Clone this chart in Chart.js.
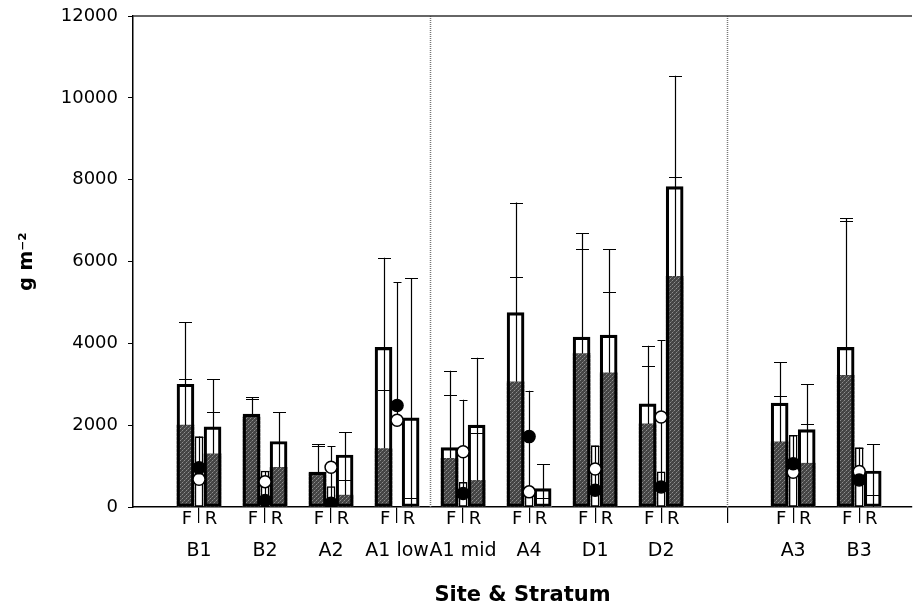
<!DOCTYPE html>
<html>
<head>
<meta charset="utf-8">
<script src="https://cdn.jsdelivr.net/npm/chart.js@4.4.0/dist/chart.umd.min.js"></script>
<style>
  html, body { margin: 0; padding: 0; background: #fff; }
  #wrap { width: 914px; height: 609px; }
</style>
</head>
<body>
<div id="wrap"><canvas id="chart"></canvas></div>
<script>
// sites along the x axis ('' = empty slot before the last group)
const sites = ['B1', 'B2', 'A2', 'A1 low', 'A1 mid', 'A4', 'D1', 'D2', '', 'A3', 'B3'];
const subLabels = ['F', 'R'];
const yTicks = [0, 2000, 4000, 6000, 8000, 10000, 12000];

// F bars (dark lower part, total height) and error caps
const fDark  = [2000, 2200,  850, 1430, 1190, 3060, 3750, 2030, null, 1590, 3220];
const fTotal = [3000, 2270,  850, 3900, 1450, 4750, 4150, 2520, null, 2540, 3900];
const fCapLo = [3130, 2630, 1480, 2870, 2740, 5630, 6300, 3450, null, 2720, 6990];
const fCapHi = [4520, 2690, 1530, 6090, 3330, 7440, 6690, 3940, null, 3540, 7060];

// R bars
const rDark  = [1300,  970,  290,    0,  650,    0, 3280, 5640, null, 1070,    0];
const rTotal = [1960, 1600, 1270, 2180, 2000,  450, 4200, 7830, null, 1890,  880];
const rCapLo = [2320, null,  660,  210, 1800,  230, 5250, 8070, null, 2020,  290];
const rCapHi = [3130, 2310, 1830, 5590, 3650, 1050, 6300, 10540, null, 3000, 1530];

// narrow middle column: bar, filled dot, open dot, error cap
const midBar   = [1720,  880,  500,    0,  600,  420, 1500,  860, null, 1750, 1450];
const midBlack = [ 960,  160,   90, 2480,  330, 1720,  410,  490, null, 1060,  660];
const midWhite = [ 680,  620,  970, 2120, 1350,  370,  930, 2200, null,  850,  870];
const midCap   = [1720,  880, 1480, 5500, 2620, 2840, 1500, 4080, null, 1750, 1450];

const dividers = [4.5, 9];
const OFF = 0.205;

const canvas = document.getElementById('chart');
const ctx0 = canvas.getContext('2d');

function stipple() {
  const c = document.createElement('canvas');
  c.width = 4; c.height = 4;
  const g = c.getContext('2d');
  g.fillStyle = '#444'; g.fillRect(0, 0, 4, 4);
  g.fillStyle = '#8e8e8e';
  g.fillRect(0, 0, 1, 1); g.fillRect(2, 2, 1, 1);
  g.fillStyle = '#666';
  g.fillRect(3, 1, 1, 1); g.fillRect(1, 3, 1, 1);
  return ctx0.createPattern(c, 'repeat');
}
const dark = stipple();

function bars(lo, hi, off) {
  return sites.map((s, i) => ({x: i + 1 + off, y: [lo ? lo[i] : 0, hi[i]]}))
    .filter(d => d.y[0] != null && d.y[1] != null);
}
function dots(vals) {
  return sites.map((s, i) => ({x: i + 1, y: vals[i]})).filter(d => d.y != null);
}

const barBase = {type: 'bar', grouped: false, borderSkipped: false, barThickness: 17};

const errorBars = {
  id: 'errorBars',
  beforeDatasetsDraw(chart) {
    const {ctx, chartArea: a, scales: {x}} = chart;
    ctx.save();
    ctx.strokeStyle = '#777';
    ctx.lineWidth = 1.5;
    ctx.setLineDash([1, 1]);
    dividers.forEach(v => {
      const px = Math.round(x.getPixelForValue(v)) + 0.5;
      ctx.beginPath(); ctx.moveTo(px, a.top); ctx.lineTo(px, a.bottom); ctx.stroke();
    });
    ctx.setLineDash([]);
    ctx.strokeStyle = '#333';
    ctx.lineWidth = 1.5;
    ctx.beginPath(); ctx.moveTo(a.left, a.top); ctx.lineTo(a.right, a.top); ctx.stroke();
    ctx.restore();
  },
  afterDatasetDraw(chart, args) {
    if (chart.data.datasets[args.index].label !== 'mid') return;
    const {ctx, scales: {x, y}} = chart;
    ctx.save();
    ctx.strokeStyle = '#000';
    ctx.lineWidth = 1.2;
    const draw = (xv, from, caps, hw) => {
      const c = caps.filter(v => v != null);
      if (!c.length || from == null) return;
      const px = Math.round(x.getPixelForValue(xv)) + 0.5;
      ctx.beginPath();
      ctx.moveTo(px, y.getPixelForValue(from));
      ctx.lineTo(px, y.getPixelForValue(Math.max(...c)));
      c.forEach(v => {
        const py = Math.round(y.getPixelForValue(v)) + 0.5;
        ctx.moveTo(px - hw, py); ctx.lineTo(px + hw, py);
      });
      ctx.stroke();
    };
    sites.forEach((s, i) => {
      draw(i + 1 - OFF, fDark[i], [fCapLo[i], fCapHi[i]], 6.5);
      draw(i + 1 + OFF, rDark[i], [rCapLo[i], rCapHi[i]], 6.5);
      if (midCap[i] != null) {
        draw(i + 1, Math.min(midBlack[i], midWhite[i]), [midCap[i]], 4);
      }
    });
    ctx.restore();
  },
  afterDraw(chart) {
    const {ctx, chartArea: a, scales: {x}} = chart;
    ctx.save();
    ctx.fillStyle = '#000';
    ctx.font = '18px "DejaVu Sans"';
    ctx.textAlign = 'center';
    ctx.textBaseline = 'middle';
    sites.forEach((s, i) => {
      if (!s) return;
      const px = x.getPixelForValue(i + 1);
      ctx.fillText(subLabels[0], px - 12, a.bottom + 12);
      ctx.fillText(subLabels[1], px + 12, a.bottom + 12);
    });
    ctx.restore();
  }
};

new Chart(canvas, {
  data: {
    datasets: [
      {type: 'scatter', label: 'black', data: dots(midBlack), order: 0,
       pointRadius: 6, pointBackgroundColor: '#000', pointBorderColor: '#000', pointBorderWidth: 1.5},
      {type: 'scatter', label: 'white', data: dots(midWhite), order: 1,
       pointRadius: 6, pointBackgroundColor: '#fff', pointBorderColor: '#000', pointBorderWidth: 1.5},
      {...barBase, label: 'mid', data: bars(null, midBar, 0), order: 2, barThickness: 8,
       backgroundColor: '#fff', borderColor: '#000', borderWidth: 1.5},
      {...barBase, label: 'F outline', data: bars(null, fTotal, -OFF), order: 3,
       backgroundColor: 'rgba(0,0,0,0)', borderColor: '#000', borderWidth: 2.5},
      {...barBase, label: 'R outline', data: bars(null, rTotal, OFF), order: 3,
       backgroundColor: 'rgba(0,0,0,0)', borderColor: '#000', borderWidth: 2.5},
      {...barBase, label: 'F dark', data: bars(null, fDark, -OFF), order: 4,
       backgroundColor: dark, borderWidth: 0},
      {...barBase, label: 'R dark', data: bars(null, rDark, OFF), order: 4,
       backgroundColor: dark, borderWidth: 0},
      {...barBase, label: 'F light', data: bars(fDark, fTotal, -OFF), order: 5,
       backgroundColor: '#fff', borderWidth: 0},
      {...barBase, label: 'R light', data: bars(rDark, rTotal, OFF), order: 5,
       backgroundColor: '#fff', borderWidth: 0}
    ]
  },
  options: {
    responsive: true,
    maintainAspectRatio: false,
    animation: false,
    layout: {autoPadding: false, padding: {top: 16, right: 2, left: 0, bottom: 0}},
    plugins: {legend: {display: false}, tooltip: {enabled: false}},
    scales: {
      x: {
        type: 'linear', min: 0, max: 11.8, offset: false,
        afterBuildTicks: s => { s.ticks = sites.map((n, i) => ({value: i + 1})); },
        afterFit: s => { s.height = 102; s.paddingLeft = 0; s.paddingRight = 0; },
        ticks: {
          callback: v => sites[v - 1], autoSkip: false, maxRotation: 0,
          color: '#000', padding: 17, font: {family: 'DejaVu Sans', size: 19}
        },
        grid: {offset: false, drawOnChartArea: false, drawTicks: true, tickLength: 16, color: '#000', lineWidth: 1.2},
        border: {color: '#000', width: 1.5},
        title: {
          display: true, text: 'Site & Stratum', color: '#000',
          font: {family: 'DejaVu Sans', size: 21, weight: 'bold'}, padding: {top: 0, bottom: 1}
        }
      },
      y: {
        min: 0, max: 12000,
        afterBuildTicks: s => { s.ticks = yTicks.map(v => ({value: v})); },
        afterFit: s => { s.width = 133; s.paddingTop = 0; s.paddingBottom = 0; },
        ticks: {callback: v => String(v), color: '#000', padding: 10, font: {family: 'DejaVu Sans', size: 18}},
        grid: {drawOnChartArea: false, drawTicks: true, tickLength: 5, color: '#000'},
        border: {color: '#000', width: 1.5},
        title: {
          display: true, text: 'g m⁻²', color: '#000',
          font: {family: 'DejaVu Sans', size: 19, weight: 'bold'}, padding: {top: 16, bottom: 0}
        }
      }
    }
  },
  plugins: [errorBars]
});
</script>
</body>
</html>
